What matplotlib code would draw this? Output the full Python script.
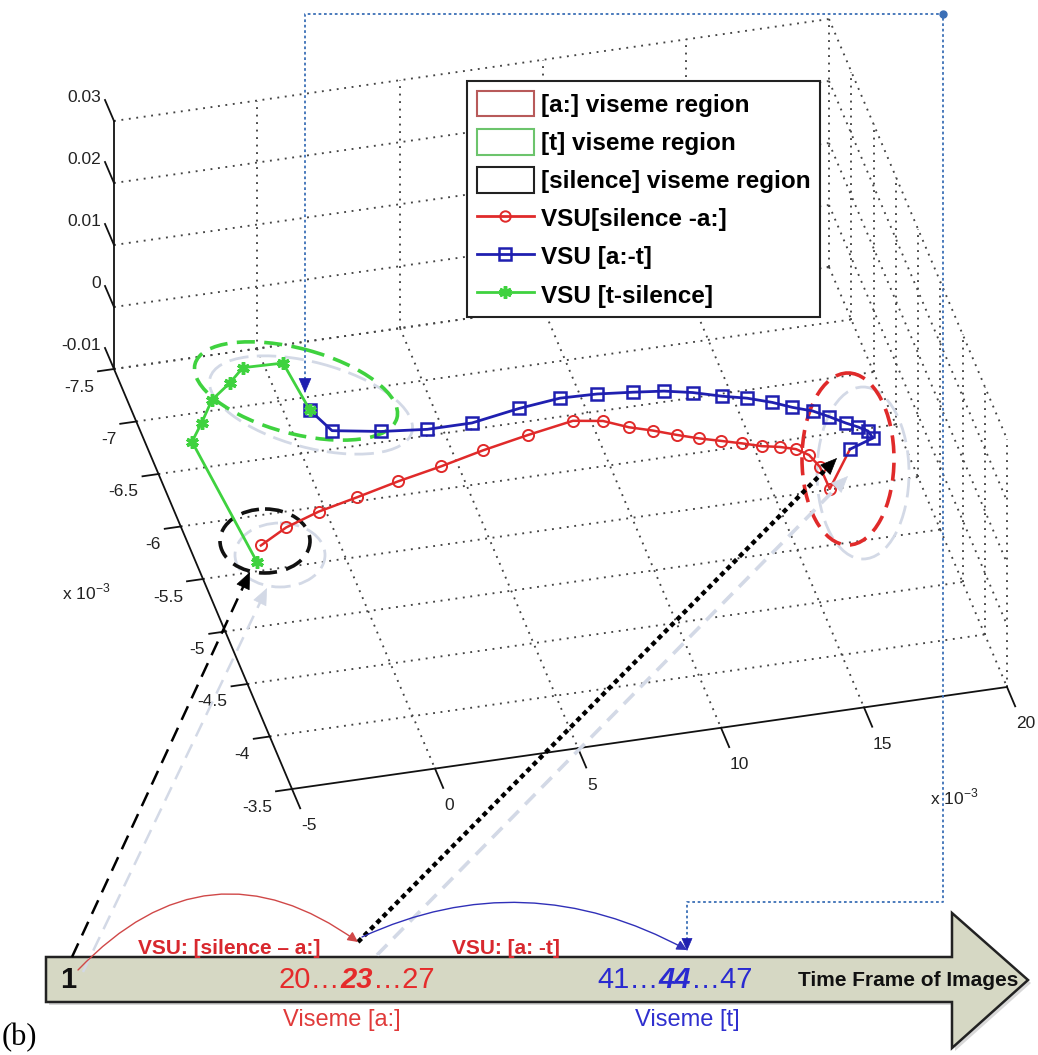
import numpy as np
import matplotlib
matplotlib.use('Agg')
import matplotlib.pyplot as plt
from matplotlib.patches import Ellipse, Polygon, Patch, FancyArrowPatch
from matplotlib.lines import Line2D
from matplotlib.path import Path
from matplotlib.transforms import Affine2D
from matplotlib.font_manager import FontProperties

plt.rcParams['font.family'] = ['Liberation Sans', 'DejaVu Sans']

W, H = 1038, 1055

# trajectories (x, y in units of 1e-3), lying on the plane z = 0
red_x = [-3.49, -2.40, -1.11, 0.36, 1.93, 3.56, 5.17, 6.86, 8.54, 9.53, 10.30, 11.04,
         11.77, 12.46, 13.14, 13.81, 14.42, 15.00, 15.50, 15.85, 16.04, 16.06, 17.28]
red_y = [-5.17, -5.30, -5.40, -5.48, -5.57, -5.65, -5.74, -5.82, -5.89, -5.85, -5.76, -5.70,
         -5.63, -5.57, -5.52, -5.47, -5.42, -5.39, -5.35, -5.28, -5.16, -4.95, -5.28]
blue_x = [17.28, 18.19, 18.13, 17.85, 17.51, 17.04, 16.59, 15.96, 15.37, 14.60, 13.80,
          12.89, 11.96, 10.92, 9.71, 8.43, 6.94, 5.18, 3.62, 2.07, 0.46, 0.02]
blue_y = [-5.28, -5.35, -5.42, -5.47, -5.52, -5.60, -5.67, -5.73, -5.80, -5.87, -5.92,
          -5.99, -6.04, -6.07, -6.10, -6.11, -6.07, -6.00, -6.00, -6.04, -6.11, -6.32]
green_x = [0.02, -0.21, -1.60, -2.24, -3.07, -3.72, -4.31, -3.85]
green_y = [-6.32, -6.78, -6.79, -6.67, -6.54, -6.35, -6.19, -5.03]
traj_z = 0.0

x_ticks = [-5, 0, 5, 10, 15, 20]
y_ticks = [-7.5, -7, -6.5, -6, -5.5, -5, -4.5, -4, -3.5]
z_ticks = [-0.01, 0, 0.01, 0.02, 0.03]
z_labels = ['-0.01', '0', '0.01', '0.02', '0.03']

legend_labels = ['[a:] viseme region', '[t] viseme region', '[silence] viseme region',
                 'VSU[silence -a:]', 'VSU [a:-t]', 'VSU [t-silence]']

RED = '#e02a2a'
BLUE = '#1f1fb0'
GREEN = '#3fd23f'
GRID = '#444444'
SHADOW = '#d3d9e6'

# view of the 3-D box (screen pixels)
ORIG = np.array([114.0, 369.0])        # x=-5, y=-7.5, z=-0.01
EX = np.array([28.6, -4.08])           # per unit x
EY = np.array([44.5, 105.0])           # per unit y
EZ = np.array([0.0, -6200.0])          # per unit z


def p3(x, y, z):
    x = np.asarray(x, float) + 5
    y = np.asarray(y, float) + 7.5
    z = np.asarray(z, float) + 0.01
    return (ORIG[0] + x * EX[0] + y * EY[0] + z * EZ[0],
            ORIG[1] + x * EX[1] + y * EY[1] + z * EZ[1])


fig = plt.figure(figsize=(W / 100, H / 100), dpi=100)
ax = fig.add_axes([0, 0, 1, 1])
ax.set_xlim(0, W)
ax.set_ylim(H, 0)
ax.axis('off')

# plane z = traj_z as an affine transform
t0 = p3(0, 0, traj_z)
plane = Affine2D(np.array([[EX[0], EY[0], t0[0]],
                           [EX[1], EY[1], t0[1]],
                           [0, 0, 1]])) + ax.transData

grid_kw = dict(color=GRID, lw=1.35, ls=(0, (1, 3.0)), zorder=1)
zmin, zmax = z_ticks[0], z_ticks[-1]
xmin, xmax = x_ticks[0], x_ticks[-1]
ymin, ymax = y_ticks[0], y_ticks[-1]
# back wall y = ymin
for z in z_ticks:
    ax.plot(*p3([xmin, xmax], [ymin, ymin], [z, z]), **grid_kw)
for x in x_ticks[1:]:
    ax.plot(*p3([x, x], [ymin, ymin], [zmin, zmax]), **grid_kw)
# floor z = zmin
for y in y_ticks[:-1]:
    ax.plot(*p3([xmin, xmax], [y, y], [zmin, zmin]), **grid_kw)
for x in x_ticks[1:]:
    ax.plot(*p3([x, x], [ymin, ymax], [zmin, zmin]), **grid_kw)
# right wall x = xmax
for z in z_ticks[1:]:
    ax.plot(*p3([xmax, xmax], [ymin, ymax], [z, z]), **grid_kw)
for y in y_ticks[1:]:
    ax.plot(*p3([xmax, xmax], [y, y], [zmin, zmax]), **grid_kw)

# axes lines
ax_kw = dict(color='#111111', lw=1.3, zorder=2)
ax.plot(*p3([xmin, xmin], [ymin, ymin], [zmin, zmax]), **ax_kw)
ax.plot(*p3([xmin, xmin], [ymin, ymax], [zmin, zmin]), **ax_kw)
ax.plot(*p3([xmin, xmax], [ymax, ymax], [zmin, zmin]), **ax_kw)

tick_font = dict(fontsize=12.5, color='#222222')
for z, lab in zip(z_ticks, z_labels):
    bx, by = p3(xmin, ymin, z)
    ax.plot([bx, bx - 9], [by, by - 21], **ax_kw)
    ax.text(bx - 13, by - 23, lab, ha='right', va='center', **tick_font)
for y in y_ticks:
    bx, by = p3(xmin, y, zmin)
    ax.plot([bx, bx - 16], [by, by + 2.3], **ax_kw)
    ax.text(bx - 20, by + 18, f'{y:g}', ha='right', va='center', **tick_font)
for x in x_ticks:
    bx, by = p3(x, ymax, zmin)
    ax.plot([bx, bx + 8.2], [by, by + 19.3], **ax_kw)
    ax.text(bx + 9, by + 37, f'{x:g}', ha='left', va='center', **tick_font)
ax.text(62, 592, r'x 10$^{\mathregular{-3}}$', ha='left', va='center', **tick_font)
ax.text(930, 797, r'x 10$^{\mathregular{-3}}$', ha='left', va='center', **tick_font)

# viseme regions (shadow + dashed ellipse)
regions = [((296, 391), 209, 85, 15, GREEN), ((265, 541), 90, 64, 0, '#111111'),
           ((848, 459), 92, 172, 0, RED)]
for (cx, cy), w, h, ang, col in regions:
    ax.add_patch(Ellipse((cx + 15, cy + 14), w, h, angle=ang, fill=False,
                         ec=SHADOW, lw=2.0, ls=(0, (7, 3)), zorder=2))
    ax.add_patch(Ellipse((cx, cy), w, h, angle=ang, fill=False, ec=col,
                         lw=2.6, ls=(0, (5, 2.6)), zorder=5))

# trajectories
ax.plot(red_x, red_y, color=RED, lw=1.8, marker='o', ms=8, mfc='none', mec=RED,
        mew=1.4, markevery=slice(0, len(red_x) - 1), transform=plane, zorder=6)
ax.plot(blue_x, blue_y, color=BLUE, lw=2.0, marker='s', ms=8.5, mfc='none', mec=BLUE,
        mew=1.8, transform=plane, zorder=7)
ax.plot(green_x, green_y, color=GREEN, lw=2.0, marker=(6, 2, 0), ms=9, mec=GREEN,
        mew=2.5, transform=plane, zorder=8)


def head(tip, frm, color, size=16):
    ax.annotate('', xy=tip, xytext=frm,
                arrowprops=dict(arrowstyle='-|>,head_length=0.7,head_width=0.3',
                                color=color, lw=0.5, mutation_scale=size,
                                shrinkA=0, shrinkB=0), zorder=9)


def pointer(start, tip, color, ls, lw, size=16):
    start, tip = np.array(start, float), np.array(tip, float)
    d = (tip - start) / np.hypot(*(tip - start))
    ax.plot([start[0], tip[0] - 8 * d[0]], [start[1], tip[1] - 8 * d[1]],
            color=color, ls=ls, lw=lw, zorder=9)
    head(tuple(tip), tuple(tip - 3 * d), color, size)


# pointers from the time line to the trajectory
pointer((83, 972), (267, 588), SHADOW, (0, (6, 3.5)), 1.8)
pointer((72, 957), (250, 572), 'black', (0, (6, 3.5)), 1.8)
pointer((377, 955), (848, 476), SHADOW, (0, (4, 2.5)), 2.6)
pointer((358, 942), (837, 458), 'black', (0, (1.1, 0.9)), 3.2)

# blue dotted connector
conn = '#3b6fb6'
ax.plot([305, 305, 943, 943, 687, 687], [385, 14, 14, 902, 902, 944],
        color=conn, lw=1.3, ls=(0, (1.5, 1.5)), zorder=9)
head((305, 393), (305, 385), BLUE, 14)
head((687, 951), (687, 944), BLUE, 12)
ax.plot([943], [14], 'o', color=conn, ms=5, zorder=9)

# time axis arrow
arrow_pts = [(46, 957), (952, 957), (952, 913), (1028, 980), (952, 1048), (952, 1002), (46, 1002)]
ax.add_patch(Polygon([(px + 3, py + 3) for px, py in arrow_pts], closed=True,
                     fc='#d8d8d8', ec='none', zorder=3))
ax.add_patch(Polygon(arrow_pts, closed=True, fc='#d6d8c4', ec='#222222', lw=1.8, zorder=4))

# arcs between frames
arc_red = Path([(78, 970), (208, 834), (358, 942)], [Path.MOVETO, Path.CURVE3, Path.CURVE3])
ax.add_patch(FancyArrowPatch(path=arc_red, arrowstyle='-|>,head_length=0.5,head_width=0.25',
                             mutation_scale=12, color='#d04848', lw=1.0, zorder=9))
arc_blue = Path([(362, 937), (525, 862), (687, 950)], [Path.MOVETO, Path.CURVE3, Path.CURVE3])
ax.add_patch(FancyArrowPatch(path=arc_blue, arrowstyle='-|>,head_length=0.5,head_width=0.25',
                             mutation_scale=12, color='#3030b8', lw=1.0, zorder=9))

# texts on the time line
ax.text(60, 980, '1', fontsize=21, fontweight='bold', color='#111111', ha='left',
        va='center', zorder=10)
renderer = fig.canvas.get_renderer()


def pieces(x, y, parts, color):
    for s, style in parts:
        t = ax.text(x, y, s, fontsize=21, color=color, ha='left', va='center',
                    fontweight='bold' if style else 'normal',
                    fontstyle='italic' if style else 'normal', zorder=10)
        x += t.get_window_extent(renderer).width


pieces(279, 980, [('20\u2026', 0), ('23', 1), ('\u202627', 0)], '#e52b2b')
pieces(597, 980, [('41\u2026', 0), ('44', 1), ('\u202647', 0)], '#2a2ad0')
ax.text(798, 980, 'Time Frame of Images', fontsize=15, fontweight='bold',
        color='#111111', ha='left', va='center', zorder=10)
ax.text(138, 948, 'VSU: [silence \u2013 a:]', fontsize=15, fontweight='bold',
        color='#d8282e', ha='left', va='center', zorder=10)
ax.text(452, 948, 'VSU: [a: -t]', fontsize=15, fontweight='bold',
        color='#d8282e', ha='left', va='center', zorder=10)
ax.text(283, 1020, 'Viseme [a:]', fontsize=17, color='#e03a3a', ha='left',
        va='center', zorder=10)
ax.text(635, 1020, 'Viseme [t]', fontsize=17, color='#2f2fcf', ha='left',
        va='center', zorder=10)
ax.text(2, 1038, '(b)', fontsize=22, family='Liberation Serif', color='black',
        ha='left', va='center', zorder=10)

# legend
handles = [Patch(fc='white', ec='#b85a5a', lw=1.5),
           Patch(fc='white', ec='#6cc46c', lw=1.5),
           Patch(fc='white', ec='#222222', lw=1.5),
           Line2D([], [], color=RED, lw=2, marker='o', ms=7.5, mfc='none', mec=RED, mew=1.4),
           Line2D([], [], color=BLUE, lw=2, marker='s', ms=8, mfc='none', mec=BLUE, mew=1.8),
           Line2D([], [], color=GREEN, lw=2, marker=(6, 2, 0), ms=9, mec=GREEN, mew=2.5)]
leg = ax.legend(handles, legend_labels, loc='upper left',
                bbox_to_anchor=(467 / W, 1 - 81 / H), bbox_transform=fig.transFigure,
                prop=FontProperties(family='Liberation Sans', weight='bold', size=17.5),
                frameon=True, fancybox=False, edgecolor='#222222', framealpha=1,
                borderpad=0.4, labelspacing=0.5, handlelength=2.35, handleheight=1.25,
                handletextpad=0.3, borderaxespad=0)
leg.get_frame().set_linewidth(1.5)
leg.set_zorder(12)

fig.savefig('out.png', dpi=100, facecolor='white')
